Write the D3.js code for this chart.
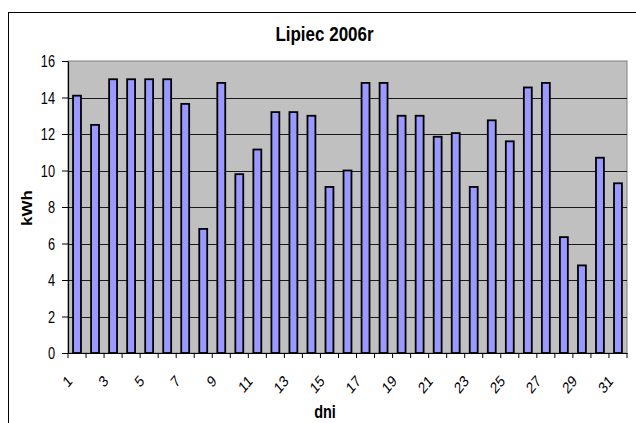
<!DOCTYPE html>
<html>
<head>
<meta charset="utf-8">
<script src="https://cdn.jsdelivr.net/npm/d3@7"></script>
<style>
  html, body { margin: 0; padding: 0; background: #ffffff; }
  svg { display: block; }
  text { font-family: "Liberation Sans", Arial, Helvetica, sans-serif; fill: #000; }
</style>
</head>
<body>
<svg id="chart" width="636" height="423"></svg>
<script>
// ---- data ----
const days = ["1","2","3","4","5","6","7","8","9","10","11","12","13","14","15","16",
              "17","18","19","20","21","22","23","24","25","26","27","28","29","30","31"];
const kwh = [14.1, 12.5, 15.0, 15.0, 15.0, 15.0, 13.65, 6.8, 14.8, 9.8, 11.15, 13.2, 13.2, 13.0, 9.1, 10.0,
             14.8, 14.8, 13.0, 13.0, 11.85, 12.05, 9.1, 12.75, 11.6, 14.55, 14.8, 6.35, 4.8, 10.7, 9.3];
const xTickLabels = ["1","3","5","7","9","11","13","15","17","19","21","23","25","27","29","31"];
const yTickValues = [0, 2, 4, 6, 8, 10, 12, 14, 16];
const chartTitle = "Lipiec 2006r";
const xTitle = "dni";
const yTitle = "kWh";

// ---- layout ----
const SY = 1.22; // vertical stretch of the text in the reference
const plot = { left: 68, right: 627, top: 61, bottom: 353 };

const svg = d3.select("#chart");

// outer chart border
svg.append("rect")
  .attr("x", 8.5).attr("y", 12.5)
  .attr("width", 640).attr("height", 430)
  .attr("fill", "#ffffff").attr("stroke", "#000").attr("stroke-width", 1);

const x = d3.scaleBand()
  .domain(days)
  .range([plot.left, plot.right])
  .paddingInner(0.56)
  .paddingOuter(0.28);

const y = d3.scaleLinear()
  .domain([0, 16])
  .range([plot.bottom, plot.top]);

// plot area background
svg.append("rect")
  .attr("x", plot.left).attr("y", plot.top)
  .attr("width", plot.right - plot.left).attr("height", plot.bottom - plot.top)
  .attr("fill", "#c0c0c0").attr("stroke", "#808080").attr("stroke-width", 1);

// gridlines
svg.append("g")
  .selectAll("line")
  .data(yTickValues.filter(v => v > 0 && v < 16))
  .join("line")
  .attr("x1", plot.left).attr("x2", plot.right)
  .attr("y1", d => Math.round(y(d)) + 0.5).attr("y2", d => Math.round(y(d)) + 0.5)
  .attr("stroke", "#1a1a1a").attr("stroke-width", 1);

// bars
svg.append("g")
  .selectAll("rect")
  .data(days.map((d, i) => ({ day: d, v: kwh[i] })))
  .join("rect")
  .attr("x", d => x(d.day))
  .attr("y", d => y(d.v))
  .attr("width", x.bandwidth())
  .attr("height", d => y(0) - y(d.v))
  .attr("fill", "#9999ff")
  .attr("stroke", "#000")
  .attr("stroke-width", 1.8);

// y axis
const yAxis = svg.append("g")
  .attr("transform", `translate(${plot.left},0)`)
  .call(d3.axisLeft(y).tickValues(yTickValues).tickSize(6).tickSizeOuter(0));
yAxis.select(".domain").attr("stroke", "#000").attr("stroke-width", 1.2);
yAxis.selectAll(".tick line").attr("stroke", "#000");
yAxis.selectAll(".tick text")
  .attr("x", null).attr("dy", null)
  .attr("transform", `translate(-13,5.5) scale(1,${SY})`)
  .attr("font-size", 12.8)
  .attr("font-family", "'Liberation Sans', Arial, sans-serif")
  .attr("fill", "#000");

// x axis: line and labels at band centres
const xAxis = svg.append("g")
  .attr("transform", `translate(0,${plot.bottom})`)
  .call(d3.axisBottom(x).tickValues(xTickLabels).tickSize(0).tickSizeOuter(0));
xAxis.select(".domain").attr("stroke", "#000").attr("stroke-width", 1.2);
xAxis.selectAll(".tick text")
  .attr("y", null).attr("dy", null)
  .attr("text-anchor", "end")
  .attr("transform", `translate(-4,29) scale(1,${SY}) rotate(-45)`)
  .attr("font-size", 13)
  .attr("font-family", "'Liberation Sans', Arial, sans-serif")
  .attr("fill", "#000");

// x category boundary ticks
const step = x.step();
const bounds = days.map(d => x(d) - (step - x.bandwidth()) / 2);
bounds.push(plot.right);
svg.append("g")
  .selectAll("line")
  .data(bounds)
  .join("line")
  .attr("x1", d => d).attr("x2", d => d)
  .attr("y1", plot.bottom).attr("y2", plot.bottom + 5)
  .attr("stroke", "#000").attr("stroke-width", 1);

// title
svg.append("text")
  .attr("transform", `translate(324.5,40.5) scale(1,1.2)`)
  .attr("text-anchor", "middle")
  .attr("font-weight", "bold")
  .attr("font-size", 17)
  .text(chartTitle);

// axis titles
svg.append("text")
  .attr("transform", `translate(325,418) scale(1,${SY})`)
  .attr("text-anchor", "middle")
  .attr("font-weight", "bold")
  .attr("font-size", 14.5)
  .text(xTitle);

svg.append("text")
  .attr("transform", `translate(32,208) scale(1,${SY}) rotate(-90)`)
  .attr("text-anchor", "middle")
  .attr("font-weight", "bold")
  .attr("font-size", 14)
  .text(yTitle);
</script>
</body>
</html>
